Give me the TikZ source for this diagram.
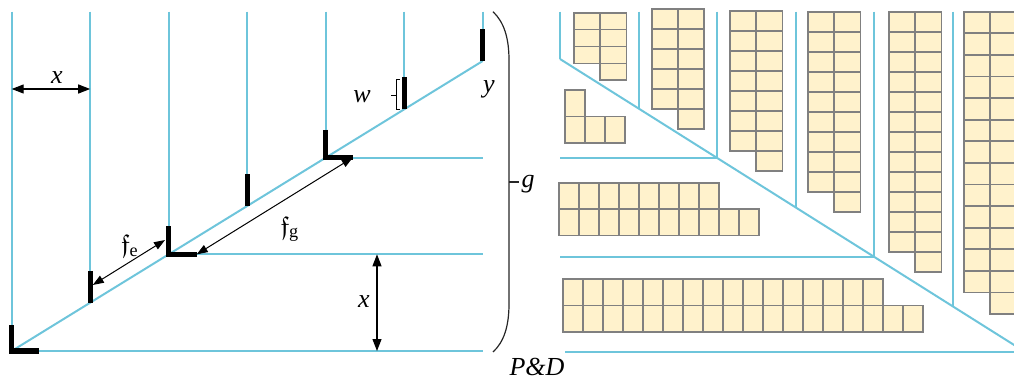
\documentclass[tikz,border=0pt]{standalone}
\usepackage{amssymb}
\usepackage{fontspec}
\setmainfont{Liberation Serif}
\usetikzlibrary{arrows.meta,calc}
\definecolor{guideblue}{HTML}{6EC5DB}
\definecolor{cellfill}{HTML}{FFF2CC}
\definecolor{cellrule}{HTML}{808080}
\tikzset{
  % ---- guide lines ----------------------------------------------------
  gline/.style={draw=guideblue, line width=1pt},
  bwall/.style={draw=black, line width=2.6pt, line join=miter},
  gbrace/.style={draw=black!85, line width=0.6pt},
  % ---- dimension arrows -----------------------------------------------
  dimarrow/.style={
    {Triangle[length=6pt,width=4.5pt]}-{Triangle[length=6pt,width=4.5pt]},
    draw=black, line width=0.6pt},
  farrow/.style={
    {Triangle[length=5.5pt,width=4pt]}-{Triangle[length=5.5pt,width=4pt]},
    draw=black, line width=0.5pt},
  % ---- cells and labels -----------------------------------------------
  cellbox/.style={draw=cellrule, fill=cellfill, line width=0.85pt},
  mlabel/.style={font=\fontsize{13}{15}\selectfont\itshape, inner sep=0pt},
}

\begin{document}
\begin{tikzpicture}[x=0.5pt, y=-0.5pt]
\useasboundingbox (0,0) rectangle (1014,380);

% ---------------- left panel -----------------------------------------
\coordinate (top) at (0,11.7);
\coordinate (d0) at (11.7,351);
\coordinate (d1) at (482.7,61);
\foreach \i in {0,...,6}{
  \coordinate (p\i) at ($(d0)!{\i/6}!(d1)$);
}

\draw[gline] (d0) -- (d1);
\foreach \i in {0,...,6}{
  \draw[gline] (p\i |- top) -- (p\i);
}
\foreach \i in {0,2,4}{
  \draw[gline] (p\i) -- (p\i -| d1);
}

% walls on the slope
\draw[bwall] ($(p0)+(0,-26)$) |- ($(p0)+(27,0)$);
\draw[bwall] ($(p2)+(0,-28)$) |- ($(p2)+(28,0)$);
\draw[bwall] ($(p4)+(0,-28)$) |- ($(p4)+(27,0)$);
\foreach \i in {1,3,5,6}{
  \draw[bwall] (p\i) -- ++(0,-32);
}

% w bracket
\draw[black, line width=0.5pt] ($(p5)+(-4,-30)$) -- ($(p5)+(-8,-30)$)
  -- ($(p5)+(-8,0)$) -- ($(p5)+(-4,0)$);
\draw[black, line width=0.5pt] ($(p5)+(-8,-14)$) -- ($(p5)+(-13,-14)$);

% dimensions
\coordinate (xa) at (p0 |- 0,89);
\coordinate (xb) at (p1 |- 0,89);
\draw[dimarrow] (xa) -- (xb);
\coordinate (xc) at (p2 -| 377,0);
\coordinate (xd) at (p0 -| 377,0);
\draw[dimarrow] (xc) -- (xd);

\coordinate (e1) at ($(p1)+(2.6,-17.7)$);
\coordinate (e2) at ($(p2)+(-3.7,-14.3)$);
\draw[farrow] (e1) -- (e2);
\coordinate (f2) at ($(p2)+(28,0)$);
\coordinate (f4) at ($(p4)+(27,0)$);
\draw[farrow] (f2) -- (f4);

\node[mlabel] (xtop) at (57,78) {x};
\node[mlabel] (xside) at (364,302) {x};
\node[mlabel] (fe) at (130,246) {$\mathfrak{f}_{\mathrm{e}}$};
\node[mlabel] (fg) at (290,229) {$\mathfrak{f}_{\mathrm{g}}$};
\node[mlabel] (w) at (362,97) {w};
\node[mlabel] (y) at (489,89) {y};

% ---------------- brace ----------------------------------------------
\draw[gbrace] (493,11.7) .. controls (504,22) and (509,38) .. (509,60)
  -- (509,304) .. controls (509,326) and (504,342) .. (493,352);
\draw[gbrace] (509,182) -- (519,182);
\node[mlabel] (g) at (528,184) {g};
\node[mlabel] (pd) at (537,367) {P\&D};

% ---------------- right panel ----------------------------------------
\coordinate (r0) at (560,59);
\coordinate (r6) at (1031.6,356);
\foreach \i in {0,...,6}{
  \coordinate (q\i) at ($(r0)!{\i/6}!(r6)$);
}
\draw[gline] (r0) -- (r6);
\foreach \i in {0,...,5}{
  \draw[gline] (q\i |- top) -- (q\i);
}
\draw[gline] (q2 -| r0) -- (q2);
\draw[gline] (q4 -| r0) -- (q4);
\coordinate (bl) at (565,352);
\coordinate (br) at (1014,352);
\draw[gline] (bl) -- (br);

% upright stacks
\foreach \gx/\gy/\gh/\gn in {574/12.7/16.9/3, 651.7/9.3/20/5, 730/10.7/20/7,
                             808/11.7/20/9, 889/11.7/20/12, 964/11.7/21.6/13}{
  \foreach \r in {1,...,\gn}{
    \draw[cellbox] ({\gx},{\gy+(\r-1)*\gh}) rectangle ++(26.3,\gh);
    \draw[cellbox] ({\gx+26.3},{\gy+(\r-1)*\gh}) rectangle ++(26.3,\gh);
  }
  \draw[cellbox] ({\gx+26.3},{\gy+\gn*\gh}) rectangle ++(26.3,\gh);
}

% lying stacks
\foreach \gx/\gy/\na/\nb in {565/90/1/3, 559.3/182.7/8/10, 563/279/16/18}{
  \foreach \c in {1,...,\na}{
    \draw[cellbox] ({\gx+(\c-1)*20},{\gy}) rectangle ++(20,26.4);
  }
  \foreach \c in {1,...,\nb}{
    \draw[cellbox] ({\gx+(\c-1)*20},{\gy+26.4}) rectangle ++(20,26.4);
  }
}

\end{tikzpicture}
\end{document}
